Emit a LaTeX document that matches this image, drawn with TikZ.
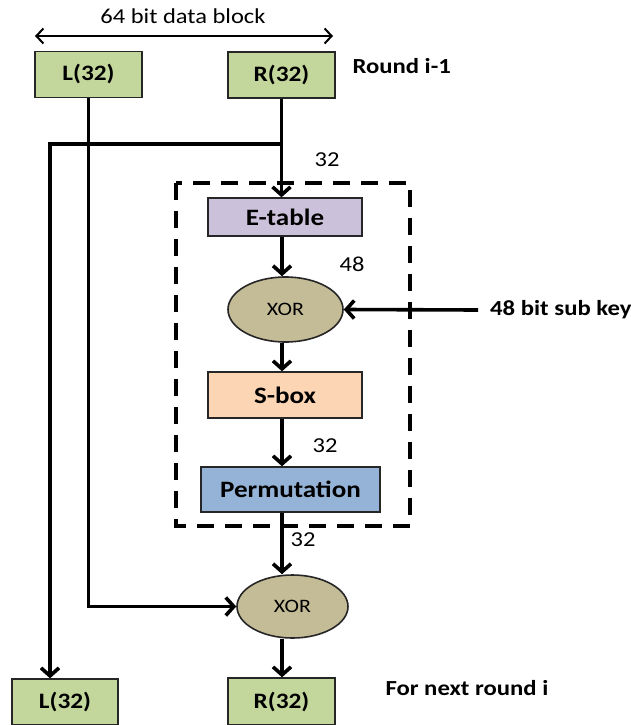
\documentclass[tikz,border=0pt]{standalone}
\usepackage{fontspec}
\setmainfont{Carlito}[FakeStretch=1.15]
\usetikzlibrary{arrows.meta,shapes.geometric}
\definecolor{blockgreen}{HTML}{C3D69B}
\definecolor{etabfill}{HTML}{CCC1DA}
\definecolor{xorfill}{HTML}{C4BC96}
\definecolor{sboxfill}{HTML}{FCD5B5}
\definecolor{permfill}{HTML}{95B3D7}
\definecolor{edge}{HTML}{262626}
\tikzset{
  half/.style={draw=edge, line width=1.4pt, fill=blockgreen, minimum width=107pt,
    minimum height=46pt, inner sep=0pt, font=\fontsize{22}{24}\selectfont\bfseries},
  stage/.style={draw=edge, line width=1.4pt, inner sep=0pt, font=\fontsize{23.5}{25}\selectfont\bfseries},
  xorop/.style={ellipse, draw=edge, line width=1.6pt, fill=xorfill, inner sep=0pt,
    font=\fontsize{19}{21}\selectfont},
  flow/.style={line width=3.6pt, -{Straight Barb[length=8pt,width=18pt]}},
  plain/.style={font=\fontsize{21.3}{23}\selectfont},
  note/.style={font=\fontsize{21.5}{23}\selectfont\bfseries, anchor=west}
}
\begin{document}
\begin{tikzpicture}[x=1pt,y=-1pt]
\useasboundingbox (0,0) rectangle (631,725);

% input halves
\node[half] (ltop) at (88.5,74.5) {L(32)};
\node[half] (rtop) at (281.5,75) {R(32)};
\node[note] (rnd) at (349,66) {Round i-1};

% width of the data block
\coordinate (bl) at (35,36);
\coordinate (br) at (333,36);
\draw[line width=2pt, {Straight Barb[length=7pt,width=15pt]}-{Straight Barb[length=7pt,width=15pt]}] (bl) -- (br);
\node[plain] (blk) at (183,16) {64 bit data block};

% round function
\draw[line width=3.6pt, dash pattern=on 17pt off 11pt] (176,183) rectangle (410,526);
\node[stage, fill=etabfill, minimum width=154pt, minimum height=38pt] (etab) at (285,217) {E-table};
\node[xorop, minimum width=115pt, minimum height=65pt] (xor1) at (285.5,309.5) {XOR};
\node[stage, fill=sboxfill, minimum width=154pt, minimum height=46pt] (sbox) at (285,395) {S-box};
\node[stage, fill=permfill, minimum width=179pt, minimum height=45pt] (perm) at (290.5,489.5) {Permutation};
\node[note, inner sep=0pt] (key) at (490,310) {48 bit sub key};

% final mixing and outputs
\node[xorop, minimum width=111pt, minimum height=63pt] (xor2) at (292.5,606.5) {XOR};
\node[half, minimum width=106pt] (lbot) at (65,702) {L(32)};
\node[half, minimum height=47pt] (rbot) at (281.5,701.5) {R(32)};
\node[note] (nxt) at (382,688) {For next round i};

% bit widths
\node[plain] (w1) at (327,160) {32};
\node[plain] (w2) at (352,264) {48};
\node[plain] (w3) at (325,446) {32};
\node[plain] (w4) at (303,540) {32};

% connectors
\coordinate (col) at (282,0);
\coordinate (split) at (282,144);
\coordinate (lturn) at (50,144);
\draw[flow] (rtop.south) -- (rtop.south |- etab.north);
\draw[flow, line join=miter] (split) -- (lturn) -- (lturn |- lbot.north);
\draw[flow, line join=miter] (ltop.south) |- (xor2.west);
\draw[flow] (col |- etab.south) -- (col |- xor1.north);
\draw[flow] (key.west) ++(-12,0) -- (xor1.east);
\draw[flow] (col |- xor1.south) -- (col |- sbox.north);
\draw[flow] (col |- sbox.south) -- (col |- perm.north);
\draw[flow] (col |- perm.south) -- (col |- xor2.north);
\draw[flow] (col |- xor2.south) -- (col |- rbot.north);
\end{tikzpicture}
\end{document}
